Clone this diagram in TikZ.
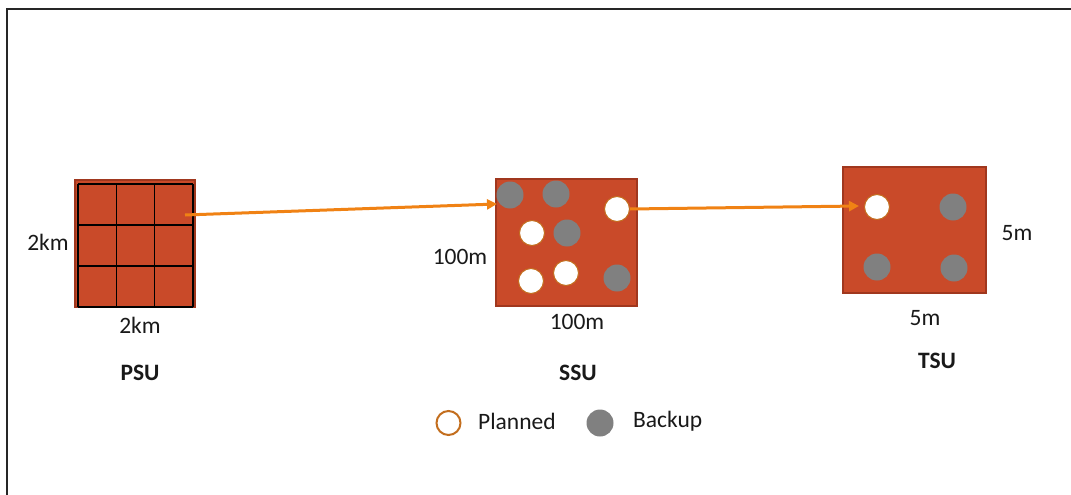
\documentclass[tikz,border=0pt]{standalone}
\usepackage{fontspec}
\setmainfont{Carlito}
\usetikzlibrary{arrows.meta}
\definecolor{brick}{RGB}{201,74,41}
\definecolor{brickedge}{RGB}{160,55,30}
\definecolor{arrowor}{RGB}{240,130,20}
\definecolor{ringor}{RGB}{195,110,30}
\definecolor{bgray}{RGB}{128,128,128}
\tikzset{
  unitbox/.style={draw=brickedge,line width=1.5pt,fill=brick},
  backup/.style={circle,fill=bgray,minimum size=27pt,inner sep=0pt},
  planned/.style={circle,fill=white,draw=ringor,line width=1pt,minimum size=25pt,inner sep=0pt},
  lbl/.style={font=\fontsize{23.5}{27}\selectfont,text=black!90,inner sep=0pt},
  ttl/.style={font=\fontsize{23.5}{27}\selectfont\bfseries,text=black!90,inner sep=0pt},
  gridln/.style={line width=1.5pt,black},
  flow/.style={draw=arrowor,line width=3pt,-{Triangle[length=10pt,width=10pt]}}
}
\begin{document}
\begin{tikzpicture}[x=1pt,y=-1pt]
\useasboundingbox (0,0) rectangle (1071,495);
% frame (top and left edges)
\draw[line width=2pt,black!85] (7,495) -- (7,9) -- (1071,9);

% PSU
\node[unitbox,minimum width=120pt,minimum height=127pt,inner sep=0pt] (psu) at (135,243.5) {};
\foreach \x in {78,116.3,154.7,193} \draw[gridln] (\x,184) -- (\x,307);
\foreach \y in {184,225,266,307} \draw[gridln] (78,\y) -- (193,\y);
\coordinate (psuout) at (185,215);
\node[lbl] (psuh) at (48,242) {2km};
\node[lbl] (psuw) at (140,325) {2km};
\node[ttl] (psut) at (140,373) {PSU};

% SSU
\node[unitbox,minimum width=141pt,minimum height=127pt,inner sep=0pt] (ssu) at (566.5,242.5) {};
\node[backup] (s1) at (510,195) {};
\node[backup] (s2) at (556,194) {};
\node[planned] (s3) at (617,209) {};
\node[planned] (s4) at (532,233) {};
\node[backup] (s5) at (567,233) {};
\node[planned] (s6) at (531,281) {};
\node[planned] (s7) at (566,273) {};
\node[backup] (s8) at (617,278) {};
\coordinate (ssuin) at (497,204);
\node[lbl] (ssuh) at (460,257) {100m};
\node[lbl] (ssuw) at (577,322) {100m};
\node[ttl] (ssut) at (578,373) {SSU};

% TSU
\node[unitbox,minimum width=143pt,minimum height=126pt,inner sep=0pt] (tsu) at (914.5,230) {};
\node[planned] (t1) at (877,207) {};
\node[backup] (t2) at (953,207) {};
\node[backup] (t3) at (877,267) {};
\node[backup] (t4) at (954,268) {};
\coordinate (tsuin) at (859,206);
\node[lbl] (tsuh) at (1017,233) {5m};
\node[lbl] (tsuw) at (925,318) {5m};
\node[ttl] (tsut) at (937,361) {TSU};

% flows
\draw[flow] (psuout) -- (ssuin);
\draw[flow] (s3.east) -- (tsuin);

% legend
\node[planned,line width=2pt,minimum size=24pt] (lp) at (448.5,423) {};
\node[lbl,anchor=west] (lpt) at (478,421) {Planned};
\node[backup] (lb) at (600,423) {};
\node[lbl,anchor=west] (lbt) at (633,421) {Backup};
\end{tikzpicture}
\end{document}
